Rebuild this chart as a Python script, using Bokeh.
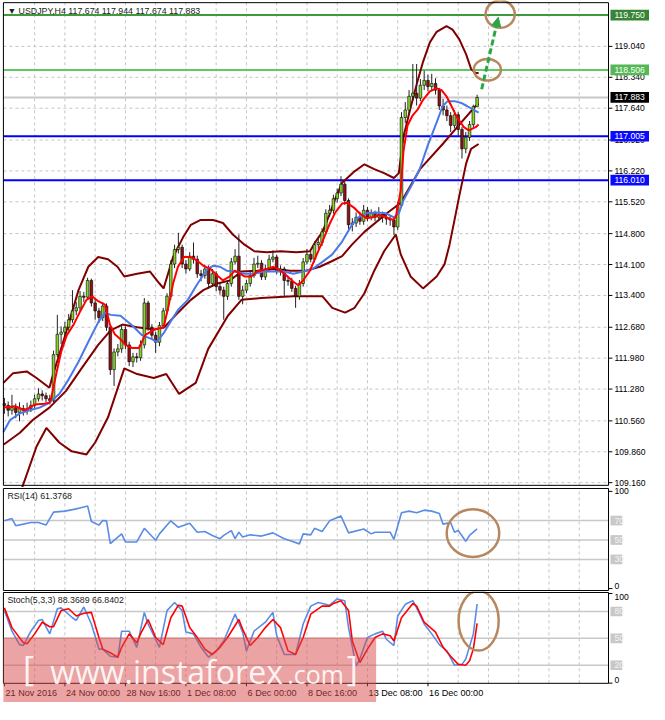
from bokeh.plotting import figure
from bokeh.layouts import column
from bokeh.models import Range1d, Label, Arrow, NormalHead
from bokeh.core.properties import value
from bokeh.embed import file_html
from bokeh.resources import INLINE

# ---------------- data ----------------
opens = [110.95,110.91,110.80,110.86,110.75,110.84,110.80,110.84,110.91,111.06,
 111.17,111.13,111.06,111.02,112.06,112.52,112.57,112.68,112.85,113.05,
 113.12,113.38,113.36,113.74,113.23,113.05,112.90,113.16,112.68,111.72,
 112.12,112.19,112.63,112.28,111.90,112.01,111.99,112.28,113.23,112.68,
 112.50,112.34,112.72,113.05,113.38,114.11,114.44,114.49,114.11,114.00,
 114.29,114.22,113.89,113.85,114.00,113.67,113.89,113.60,113.52,113.38,
 113.67,114.16,114.29,113.38,113.52,113.67,113.85,114.11,114.13,113.82,
 114.00,114.22,114.27,113.94,114.00,113.74,113.72,113.56,113.38,113.67,
 114.16,114.33,114.22,114.55,114.60,114.84,115.26,115.33,115.59,115.72,
 115.92,115.55,115.00,115.04,115.17,115.08,115.33,115.17,115.26,115.17,
 115.24,115.17,115.13,115.11,114.95,115.44,117.43,117.60,117.91,117.98,
 117.87,118.16,118.27,118.13,118.20,118.05,117.69,117.60,117.47,117.25,
 117.49,117.16,116.72,116.98,117.27,117.674]
closes = [110.91,110.80,110.86,110.75,110.84,110.80,110.84,110.91,111.06,111.17,
 111.13,111.06,111.02,112.06,112.52,112.57,112.68,112.85,113.05,113.12,
 113.38,113.36,113.74,113.23,113.05,112.90,113.16,112.68,111.72,112.12,
 112.19,112.63,112.28,111.90,112.01,111.99,112.28,113.23,112.68,112.50,
 112.34,112.72,113.05,113.38,114.11,114.44,114.49,114.11,114.00,114.29,
 114.22,113.89,113.85,114.00,113.67,113.89,113.60,113.52,113.38,113.67,
 114.16,114.29,113.38,113.52,113.67,113.85,114.11,114.13,113.82,114.00,
 114.22,114.27,113.94,114.00,113.74,113.72,113.56,113.38,113.67,114.16,
 114.33,114.22,114.55,114.60,114.84,115.26,115.33,115.59,115.72,115.92,
 115.55,115.00,115.04,115.17,115.08,115.33,115.17,115.26,115.17,115.24,
 115.17,115.13,115.11,114.95,115.44,117.43,117.60,117.91,117.98,117.87,
 118.16,118.27,118.13,118.20,118.05,117.69,117.60,117.47,117.25,117.49,
 117.16,116.72,116.98,117.27,117.674,117.883]
highs = [111.08,111.00,111.15,110.95,110.98,110.92,110.97,111.02,111.15,111.30,
 111.25,111.20,111.15,112.15,112.96,112.70,112.80,112.98,113.52,113.25,
 113.50,113.48,113.80,113.78,113.32,113.12,113.25,113.22,112.75,112.20,
 112.30,112.75,112.70,112.35,112.10,112.10,112.38,113.34,113.28,112.75,
 112.58,112.80,113.12,113.45,114.20,114.55,114.82,114.55,114.20,114.38,
 114.60,114.30,113.98,114.10,114.08,114.00,113.95,113.70,113.60,113.75,
 114.25,114.45,114.78,113.62,113.75,113.95,114.25,114.30,114.20,114.10,
 114.32,114.42,114.32,114.08,114.05,113.82,113.80,113.62,113.75,114.25,
 114.45,114.40,114.62,114.70,114.92,115.35,115.45,115.68,115.82,116.10,
 115.98,115.60,115.15,115.28,115.30,115.45,115.40,115.35,115.32,115.40,
 115.30,115.25,115.22,115.18,115.52,117.55,117.78,118.05,118.64,118.64,
 118.30,118.49,118.40,118.42,118.32,118.10,117.85,117.70,117.55,117.60,
 117.55,117.22,117.10,117.35,117.72,117.944]
lows = [110.72,110.66,110.70,110.62,110.55,110.68,110.70,110.76,110.85,111.00,
 111.02,110.98,110.93,110.98,112.00,112.30,112.45,112.60,112.78,112.95,
 113.05,113.25,113.30,113.15,112.85,112.78,112.82,112.60,111.60,111.35,
 112.02,112.10,112.18,111.80,111.78,111.88,111.92,112.20,112.60,112.40,
 112.10,112.25,112.65,112.98,113.30,114.02,114.35,114.02,113.90,113.95,
 114.12,113.80,113.72,113.78,113.55,113.60,113.50,113.42,112.85,113.30,
 113.60,114.10,113.30,113.20,113.45,113.60,113.80,114.02,113.75,113.75,
 113.95,114.15,113.88,113.85,113.38,113.62,113.48,113.12,113.30,113.60,
 114.10,114.15,114.15,114.45,114.52,114.78,115.18,115.25,115.50,115.65,
 115.45,114.90,114.85,114.95,115.00,115.00,115.08,115.10,115.08,115.10,
 115.05,115.00,114.98,114.77,114.88,115.40,117.30,117.50,117.80,117.70,
 117.80,118.05,118.02,118.05,117.95,117.60,117.48,117.35,117.10,117.18,
 117.02,116.50,116.62,116.90,117.20,117.674]

fast_x = [-0.26,2.8,5.4,8.0,10.6,11.9,12.4,13.7,15.0,16.5,18.3,20.1,21.7,23.2,24.8,26.6,27.9,29.2,30.7,32.0,
 33.8,35.6,37.2,39.7,42.1,43.4,44.6,45.9,47.5,49.3,51.1,52.6,54.5,56.3,57.8,59.6,60.9,63.5,65.3,66.8,
 69.4,71.2,73.0,74.6,76.4,77.7,79.0,80.8,82.3,84.1,85.9,87.5,89.3,90.6,92.4,93.9,95.7,97.5,99.1,100.9,
 102.7,103.5,104.8,105.5,106.6,107.9,109.2,110.7,112.5,114.3,115.6,116.9,118.2,119.7,121.5,122.8,124.6,125.4]
fast_y = [110.86,110.89,110.80,110.93,110.95,110.97,111.08,111.62,112.12,112.50,112.74,113.05,113.30,113.38,113.27,113.19,112.74,112.52,112.41,112.28,
 112.21,112.21,112.50,112.63,112.68,113.16,113.67,114.05,114.27,114.27,114.18,114.07,114.00,113.85,113.74,113.83,113.96,113.83,113.83,113.94,
 114.00,114.05,113.96,113.85,113.71,113.63,113.74,113.96,114.27,114.62,115.00,115.28,115.48,115.50,115.39,115.26,115.15,115.17,115.22,115.17,
 115.11,115.17,115.77,116.65,117.25,117.47,117.60,117.83,118.02,118.09,118.05,117.91,117.69,117.43,117.21,117.14,117.21,117.27]

slow_x = [-0.26,1.5,4.1,6.7,9.3,11.9,14.5,17.0,19.6,22.2,24.8,26.6,28.1,30.7,33.8,36.4,39.0,40.3,42.3,44.1,
 45.9,48.5,51.1,53.7,55.2,57.0,58.8,60.9,63.5,66.1,68.6,71.2,73.8,76.4,79.0,81.5,84.1,86.7,89.3,91.4,
 93.2,95.7,98.3,100.9,103.0,104.3,105.5,107.9,109.9,112.0,114.3,115.9,117.2,119.0,120.8,122.3,124.1,125.4]
slow_y = [110.31,110.58,110.73,110.80,110.86,110.97,111.17,111.50,111.90,112.35,112.79,113.01,112.96,112.94,112.72,112.50,112.41,112.35,112.57,112.83,
 113.07,113.30,113.67,114.00,114.07,114.05,113.96,113.94,113.89,113.89,113.94,113.94,113.94,113.89,113.94,114.00,114.16,114.33,114.62,114.93,
 115.15,115.26,115.28,115.26,115.17,115.26,115.55,115.93,116.28,116.81,117.32,117.69,117.80,117.80,117.76,117.69,117.60,117.54]

bb_up_x = [-0.26,2.3,5.9,8.5,11.9,12.6,16.3,19.6,22.2,24.8,27.4,29.9,31.7,35.1,38.5,41.0,42.1,44.6,47.2,49.3,
 51.9,55.2,57.8,60.4,63.5,66.1,69.4,73.0,77.2,80.8,82.3,84.1,85.9,87.5,89.3,92.6,95.2,97.8,100.4,103.0,
 104.3,105.5,107.4,109.2,110.7,112.5,114.3,116.9,118.5,120.3,122.1,123.4,124.6,125.4]
bb_up_y = [111.42,111.64,111.68,111.53,111.31,111.53,112.56,113.52,114.05,114.27,114.22,114.05,113.83,113.89,113.94,113.67,113.56,114.27,114.71,115.00,
 115.11,115.11,115.04,114.78,114.55,114.40,114.38,114.40,114.38,114.40,114.62,114.84,115.22,115.59,115.95,116.21,116.37,116.26,116.17,116.06,
 116.17,116.99,117.65,118.24,118.69,119.13,119.37,119.50,119.42,119.20,118.86,118.53,118.44,118.44]

bb_mid_x = [-0.26,4.1,7.5,11.9,16.3,20.4,24.8,28.1,31.2,35.1,39.7,42.3,45.9,49.3,52.6,56.3,59.6,62.7,66.8,71.2,
 75.6,79.7,83.4,86.7,89.3,91.9,95.2,101.4,104.8,109.9,115.9,120.3,124.6,125.4]
bb_mid_y = [110.02,110.29,110.58,110.86,111.24,111.75,112.28,112.61,112.74,112.68,112.63,112.68,113.01,113.30,113.52,113.67,113.74,113.94,113.96,114.00,
 113.96,113.96,114.05,114.18,114.29,114.55,114.84,115.28,115.50,116.26,116.83,117.27,117.69,117.74]

bb_low_x = [4.7,4.9,8.5,11.1,14.5,17.8,21.7,24.0,27.4,31.7,35.1,39.5,42.8,46.2,50.6,53.9,59.1,62.7,67.9,76.4,
 84.1,86.7,90.1,92.6,95.2,97.8,100.4,103.5,104.8,107.4,110.7,114.3,116.4,117.7,119.0,120.3,122.1,123.4,125.4]
bb_low_y = [109.05,109.10,109.98,110.40,110.07,109.87,109.80,110.07,110.64,111.75,111.62,111.53,111.62,111.17,111.42,112.19,112.94,113.30,113.34,113.38,
 113.38,113.12,113.01,113.12,113.45,113.96,114.40,114.78,114.33,113.83,113.56,113.83,114.11,114.55,115.10,115.66,116.39,116.72,116.83]

rsi_x = [0,2,3,5,7,9,11,13,16,19,20,22,23,25,26,27,28,29,31,32,35,37,40,41,44,46,49,51,53,55,
 57,58,60,61,62,63,65,68,71,74,76,78,79,81,82,84,86,89,91,95,97,98,102,103,105,107,109,111,113,115,
 116,118,119,120,122,123,125]
rsi_y = [69.7,72,64.7,66.3,68,68,65.3,78.7,79.7,82,83,85,69,65.3,70,69.7,46.3,49.7,56.3,48,48,62,49.7,56.3,69.7,63,67.3,58,58.7,54.7,
 51.3,54.7,59.7,51.3,58,53,55.3,54,57.3,51.3,48.7,46,56.3,55.3,62,58.7,69.7,74.7,57.3,61.3,56.3,58,58,50.7,78,79.7,78,80.7,79.7,77.3,
 66.3,68,58,59.7,48.7,54.7,61.38]

stoch_k_x = [0,2,4,5,7,9,10,12,14,15,18,19,21,23,25,26,28,30,31,33,35,37,38,41,43,45,47,48,50,52,
 54,56,58,61,63,64,66,69,71,72,74,77,79,81,83,86,88,90,91,93,94,96,98,100,101,103,104,106,108,109,
 111,113,115,117,119,121,122,124,125]
stoch_k_y = [81,58,43,42,58,70,71,55,83,84,73,70,85,66,38,38,30,29,58,58,40,79,66,40,81,90,81,57,55,40,
 29,36,47,77,57,36,58,68,79,53,32,32,66,86,90,87,94,92,62,19,27,51,55,58,49,42,75,88,92,84,
 66,55,43,36,20,21,27,55,88.37]
stoch_d_x = [0,2,5,6,8,10,12,13,15,17,19,21,23,25,26,28,30,31,33,35,36,38,40,42,44,46,47,49,51,53,
 55,57,59,62,63,65,67,69,71,73,75,77,79,81,84,86,87,89,91,92,94,96,98,100,102,103,105,108,109,111,
 114,116,118,120,122,123,124,125]
stoch_d_y = [84,62,45,44,55,68,63,63,81,83,75,78,79,51,38,34,29,40,55,45,55,71,51,43,73,87,86,62,51,38,
 32,40,51,71,60,42,51,62,71,62,36,32,51,77,86,86,89,92,81,47,23,38,51,55,53,47,73,89,86,68,
 57,40,30,21,20,25,38,66.84]

price_ticks = [109.160,109.860,110.560,111.280,111.980,112.680,113.400,114.100,114.800,
               115.520,116.220,116.920,117.640,118.340,119.040]
level_prices = [119.750, 118.506, 117.883, 117.005, 116.010]
level_line_colors = ["#3f9a3f", "#62c862", "#c8c8c8", "#0000ff", "#0000ff"]
level_box_colors = ["#358535", "#55b855", "#000000", "#0a0aff", "#0a0aff"]
rsi_levels = [70, 50, 30]
stoch_levels = [80, 50, 20]
osc_ticks = [100, 0]
date_bars = [0, 16, 32, 48, 64, 80, 96, 112]
date_labels = ["21 Nov 2016", "24 Nov 00:00", "28 Nov 16:00", "1 Dec 08:00",
               "6 Dec 00:00", "8 Dec 16:00", "13 Dec 08:00", "16 Dec 00:00"]
header_text = "\u25bc USDJPY,H4  117.674 117.944 117.674 117.883"
rsi_text = "RSI(14) 61.3768"
stoch_text = "Stoch(5,3,3) 88.3689 66.8402"

# analyst drawings (bar index / value units)
circle_x = [131.1, 127.7]
circle_y = [119.77, 118.51]
circle_w = [7.7, 7.2]
circle_h = [0.62, 0.49]
arrow_from = (126.2, 118.07)
arrow_to = (130.6, 119.70)
rsi_circle = (123.9, 57.0, 13.9, 49.0)
stoch_circle = (125.4, 69.6, 10.6, 66.5)

# ---------------- styling / geometry ----------------
W = 649
FONT = "Liberation Sans"
GRID = "#c4c4c4"
BULL = "#86d42c"
BEAR = "#8e1212"
BAND = "#800000"
BROWN = "#b8875f"
ARROWG = "#27a844"
IND_BLUE = "#5a8ce6"
XS, XAX, XE = -0.26, 159.74, 170.58      # panel left edge, price-axis line, page edge
TICK_LEN = 1.03
LBL_X = 161.3
BOX_L = 160.26
xr = Range1d(-1.03, XE)
grid_bars = list(range(8, 160, 8))


def panel(height, y0, y1):
    f = figure(width=W, height=height, x_range=xr, y_range=Range1d(y0, y1),
               output_backend="svg", toolbar_location=None,
               x_axis_location=None, y_axis_location=None,
               min_border=0, min_border_left=0, min_border_right=0,
               min_border_top=0, min_border_bottom=0,
               background_fill_color="white", border_fill_color="white")
    f.outline_line_color = None
    f.grid.visible = False
    return f


def frame_guides(f, top, bottom, hticks, dashed_h):
    n = len(grid_bars)
    f.segment(x0=grid_bars, y0=[bottom] * n, x1=grid_bars, y1=[top] * n,
              line_color=GRID, line_dash="3 3", line_width=1)
    if dashed_h:
        m = len(hticks)
        f.segment(x0=[XS] * m, y0=hticks, x1=[XAX] * m, y1=hticks,
                  line_color=GRID, line_dash="3 3", line_width=1)


def right_axis(f, ticks, texts, baselines):
    m = len(ticks)
    f.segment(x0=[XAX] * m, y0=ticks, x1=[XAX + TICK_LEN] * m, y1=ticks,
              line_color="black", line_width=1)
    for t, s, b in zip(ticks, texts, baselines):
        f.text(x=[LBL_X], y=[t], text=[s], text_font=value(FONT), text_font_size="8.6px",
               text_color="black", text_baseline=b, text_align="left")


def boxes(f, ys, half, right, colors, texts, tcolor):
    m = len(ys)
    f.quad(left=[BOX_L] * m, right=[right] * m, top=[y + half for y in ys],
           bottom=[y - half for y in ys], fill_color=colors, line_color=None)
    f.text(x=[LBL_X] * m, y=ys, text=texts, text_font=value(FONT), text_font_size="8.6px",
           text_color=tcolor, text_baseline="middle", text_align="left")


def border(f, top, bottom):
    f.quad(left=[XS], right=[XAX], top=[top], bottom=[bottom], fill_color=None,
           line_color="black", line_width=1)


# ---------------- main price panel ----------------
MT, MB = 120.03, 109.10
p = panel(487, 109.051, 120.079)
frame_guides(p, MT, MB, price_ticks, True)
nl = len(level_prices)
p.segment(x0=[XS] * nl, y0=level_prices, x1=[XAX] * nl, y1=level_prices,
          line_color=level_line_colors, line_width=2)

for bx, by in [(bb_up_x, bb_up_y), (bb_mid_x, bb_mid_y), (bb_low_x, bb_low_y)]:
    p.line(bx, by, line_color=BAND, line_width=2)

idx = list(range(len(closes)))
up = [i for i in idx if closes[i] >= opens[i]]
dn = [i for i in idx if closes[i] < opens[i]]
p.segment(x0=idx, y0=lows, x1=idx, y1=highs, line_color="#222222", line_width=1)
p.vbar(x=up, width=0.7, top=[closes[i] for i in up], bottom=[opens[i] for i in up],
       fill_color=BULL, line_color="black", line_width=0.6)
p.vbar(x=dn, width=0.7, top=[opens[i] for i in dn], bottom=[closes[i] for i in dn],
       fill_color=BEAR, line_color="black", line_width=0.6)

p.line(slow_x, slow_y, line_color="#4a78e8", line_width=2)
p.line(fast_x, fast_y, line_color="#ff0000", line_width=2)

p.ellipse(x=circle_x, y=circle_y, width=circle_w, height=circle_h,
          fill_color=None, line_color=BROWN, line_width=2.5)
p.add_layout(Arrow(end=NormalHead(size=9, fill_color=ARROWG, line_color=ARROWG),
                   x_start=arrow_from[0], y_start=arrow_from[1],
                   x_end=arrow_to[0], y_end=arrow_to[1],
                   line_color=ARROWG, line_width=3, line_dash="6 3"))

right_axis(p, price_ticks, [f"{t:.3f}" for t in price_ticks], ["middle"] * len(price_ticks))
boxes(p, level_prices, 0.1215, XE, level_box_colors, [f"{v:.3f}" for v in level_prices], "white")
border(p, MT, MB)
p.add_layout(Label(x=XS, y=MT, x_offset=4, y_offset=-3, text=header_text, text_font=FONT,
                   text_font_size="8.8px", text_color="#222222", text_baseline="top"))

# ---------------- RSI panel ----------------
RT, RB = 103, -2
r = panel(104, -3, 104)
frame_guides(r, RT, RB, [], False)
r.segment(x0=[XS] * 3, y0=rsi_levels, x1=[XAX] * 3, y1=rsi_levels,
          line_color="#c8c8c8", line_width=1.5)
r.line(rsi_x, rsi_y, line_color=IND_BLUE, line_width=1.6)
r.ellipse(x=[rsi_circle[0]], y=[rsi_circle[1]], width=[rsi_circle[2]], height=[rsi_circle[3]],
          fill_color=None, line_color=BROWN, line_width=2.5)
right_axis(r, osc_ticks, ["100", "0"], ["middle", "bottom"])
boxes(r, rsi_levels, 5, 163.4, ["#c8c8c8"] * 3, [str(v) for v in rsi_levels], "#f4f4f4")
border(r, RT, RB)
r.add_layout(Label(x=XS, y=RT, x_offset=4, y_offset=-3, text=rsi_text, text_font=FONT,
                   text_font_size="8.8px", text_color="#222222", text_baseline="top"))

# ---------------- Stochastic panel ----------------
ST, SB = 101.2, -0.2
s = panel(111, -21.6, 102.3)
frame_guides(s, ST, SB, [], False)
s.segment(x0=[XS] * 3, y0=stoch_levels, x1=[XAX] * 3, y1=stoch_levels,
          line_color="#c8c8c8", line_width=1.5)
s.line(stoch_k_x, stoch_k_y, line_color=IND_BLUE, line_width=1.6)
s.line(stoch_d_x, stoch_d_y, line_color="#ff0000", line_width=1.6)
s.ellipse(x=[stoch_circle[0]], y=[stoch_circle[1]], width=[stoch_circle[2]],
          height=[stoch_circle[3]], fill_color=None, line_color=BROWN, line_width=2.5)
right_axis(s, osc_ticks, ["100", "0"], ["top", "bottom"])
boxes(s, stoch_levels, 5.4, 163.4, ["#c8c8c8"] * 3, [str(v) for v in stoch_levels], "#f4f4f4")
border(s, ST, SB)
s.add_layout(Label(x=XS, y=ST, x_offset=4, y_offset=-3, text=stoch_text, text_font=FONT,
                   text_font_size="8.8px", text_color="#222222", text_baseline="top"))
# time axis
nd = len(date_bars)
s.segment(x0=date_bars, y0=[SB] * nd, x1=date_bars, y1=[SB - 3.3] * nd,
          line_color="black", line_width=1)
s.text(x=[b + 0.3 for b in date_bars], y=[-11] * nd, text=date_labels,
       text_font=value(FONT), text_font_size="9.1px", text_color="black",
       text_baseline="middle", text_align="left")

# watermark
s.quad(left=[XS], right=[98.3], top=[51], bottom=[-21.6], fill_color="#d94848",
       fill_alpha=0.5, line_color=None)
s.text(x=[4.9, 90.5], y=[17.0, 17.0], text=["[", "]"], text_font=value("Open Sans"),
       text_font_size="34px", text_color="white", text_alpha=0.9, text_baseline="middle")
s.text(x=[12.1], y=[12.9], text=["www.instaforex"], text_font=value("Open Sans"),
       text_font_size="32px", text_color="white", text_alpha=0.9, text_baseline="middle")
s.text(x=[74.8], y=[10.7], text=[".com"], text_font=value("Open Sans"),
       text_font_size="25px", text_color="white", text_alpha=0.9, text_baseline="middle")

layout = column(p, r, s, spacing=0)
open("out.html", "w").write(file_html(layout, INLINE))
